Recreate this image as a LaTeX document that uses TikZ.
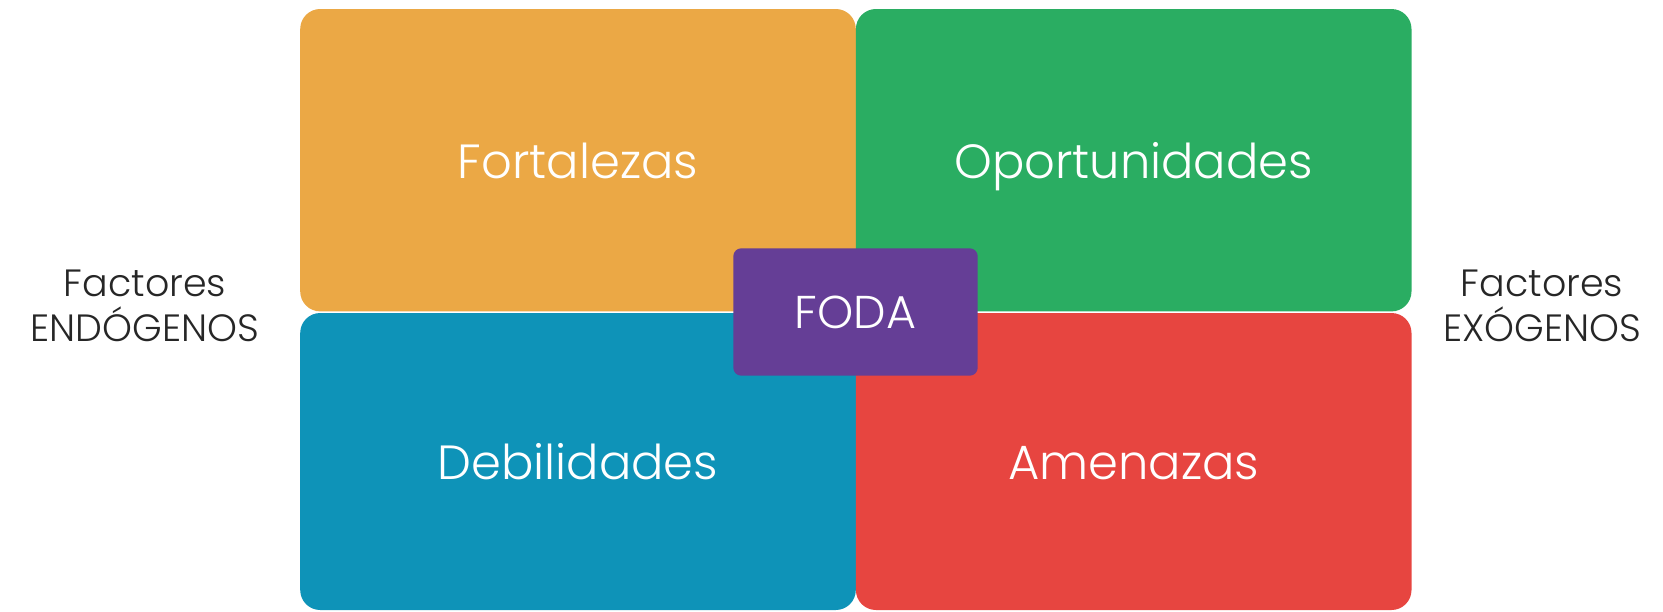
\documentclass[tikz,border=0pt]{standalone}
\usepackage{fontspec}
\setmainfont{Poppins}[UprightFont={* Light}]

\definecolor{naranja}{HTML}{EBA845}
\definecolor{verde}{HTML}{2AAD62}
\definecolor{azul}{HTML}{0E93B8}
\definecolor{rojo}{HTML}{E74540}
\definecolor{morado}{HTML}{653E96}

\tikzset{
    cuadro/.style={rectangle, rounded corners=10pt, inner sep=0pt, minimum width=277.8pt, text=white, text depth=0pt, text height=18pt, font=\fontsize{24}{30}\selectfont},
    factor/.style={align=center, anchor=base, text=black!85, font=\fontsize{19}{22.5}\selectfont}
}

\begin{document}
\begin{tikzpicture}[x=0.5pt, y=-0.5pt]

\useasboundingbox (0,0) rectangle (1663,611);

\node[cuadro, fill=naranja, minimum height=151.2pt] (fortalezas) at (578,160.2) {Fortalezas};
\node[cuadro, fill=verde, minimum height=151.2pt] (oportunidades) at (1133.7,160.2) {Oportunidades};
\node[cuadro, fill=azul, minimum height=148.5pt] (debilidades) at (578,461.5) {Debilidades};
\node[cuadro, fill=rojo, minimum height=148.5pt] (amenazas) at (1133.7,461.5) {Amenazas};

\node[rectangle, rounded corners=4pt, fill=morado, text=white, minimum width=122.2pt, minimum height=63.7pt, font=\fontsize{23}{28}\selectfont] (foda) at (855.5,312) {FODA};

\node[factor] (endogenos) at (145,341.7) {Factores\\ENDÓGENOS};
\node[factor] (exogenos) at (1542,341.7) {Factores\\EXÓGENOS};

\end{tikzpicture}
\end{document}
